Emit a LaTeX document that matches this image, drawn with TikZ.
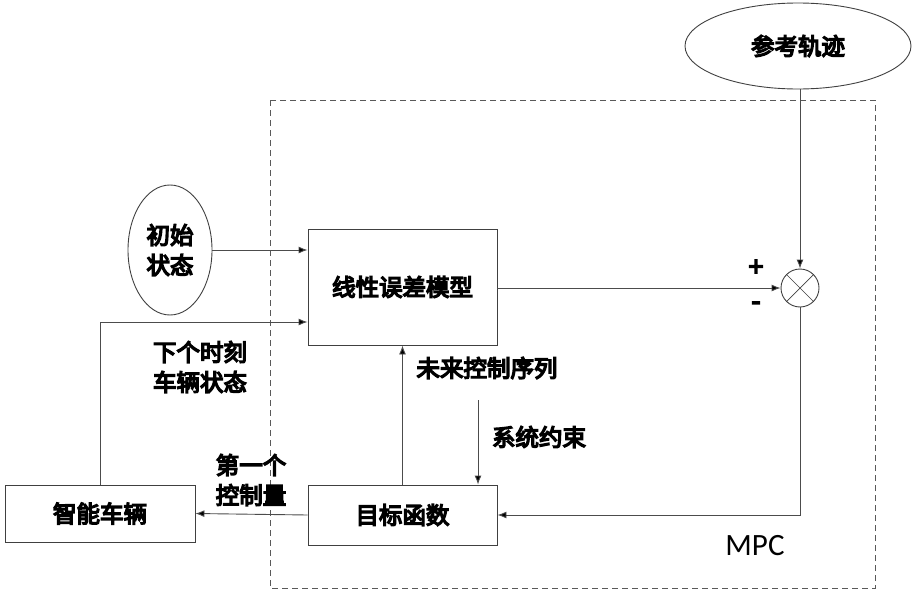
\documentclass[tikz,border=0pt]{standalone}
\usepackage{fontspec}
\newfontfamily\cjk[FakeBold=6]{Noto Sans CJK SC}
\newfontfamily\carl{Carlito}
\usetikzlibrary{arrows.meta,shapes.geometric}
\begin{document}
\begin{tikzpicture}[x=1pt,y=-1pt,
  lbl/.style={font=\cjk\fontsize{23.5}{30}\selectfont,align=center,inner sep=0pt},
  blk/.style={draw=black!75,line width=0.9pt,rectangle,inner sep=0pt},
  conn/.style={draw=black!70,line width=0.9pt},
  arr/.style={conn,-{Latex[length=9pt,width=7pt,fill=black]}}]
\useasboundingbox (0,0) rectangle (919,597);
\draw[dashed,draw=black!65,line width=0.9pt,dash pattern=on 6pt off 4pt] (270,100) rectangle (875,588);
\node[draw=black!75,line width=0.9pt,ellipse,minimum width=226pt,minimum height=86pt,inner sep=0pt] (ref) at (798,46) {};
\node[lbl] at (ref.center) {参考轨迹};
\node[draw=black!75,line width=0.9pt,ellipse,minimum width=84pt,minimum height=130pt,inner sep=0pt] (init) at (170,250) {};
\node[lbl] at (init.center) {初始\\状态};
\node[blk,minimum width=189pt,minimum height=116pt] (model) at (402.5,287) {};
\node[lbl] at (model.center) {线性误差模型};
\node[blk,minimum width=189pt,minimum height=60pt] (obj) at (402.5,515) {};
\node[lbl] at (obj.center) {目标函数};
\node[blk,minimum width=190pt,minimum height=57pt] (car) at (100,513.5) {};
\node[lbl] at (car.center) {智能车辆};
\node[draw=black!75,line width=0.9pt,circle,minimum size=38pt,inner sep=0pt] (sum) at (800,288) {};
\draw[black!75,line width=0.7pt] (sum.45) -- (sum.225) (sum.135) -- (sum.315);
\coordinate (refb) at (800,89);
\draw[arr] (refb) -- (sum.north);
\draw[arr] (init.east |- 0,250) -- (model.west |- 0,250);
\draw[arr] (model.east |- 0,288) -- (sum.west);
\coordinate (c1) at (100,322);
\draw[arr] (car.north -| c1) -- (c1) -- (model.west |- c1);
\coordinate (c2) at (800,515);
\draw[arr] (sum.south) -- (c2) -- (obj.east);
\draw[arr] (obj.west) -- (car.east);
\draw[arr] (obj.north) -- (model.south);
\coordinate (cs) at (478,400);
\draw[arr] (cs) -- (cs |- obj.north);
\node[lbl,font=\cjk\fontsize{26}{26}\selectfont] (t1) at (756,268) {+};
\node[lbl,font=\cjk\fontsize{26}{26}\selectfont] (t2) at (756,306) {-};
\node[lbl] (t3) at (487,368) {未来控制序列};
\node[lbl] (t4) at (539,437) {系统约束};
\node[lbl] (t5) at (251,480) {第一个\\控制量};
\node[lbl] (t6) at (200,367) {下个时刻\\车辆状态};
\node[font=\carl\fontsize{31}{31}\selectfont,inner sep=0pt] (mpc) at (755,546) {MPC};
\end{tikzpicture}
\end{document}
